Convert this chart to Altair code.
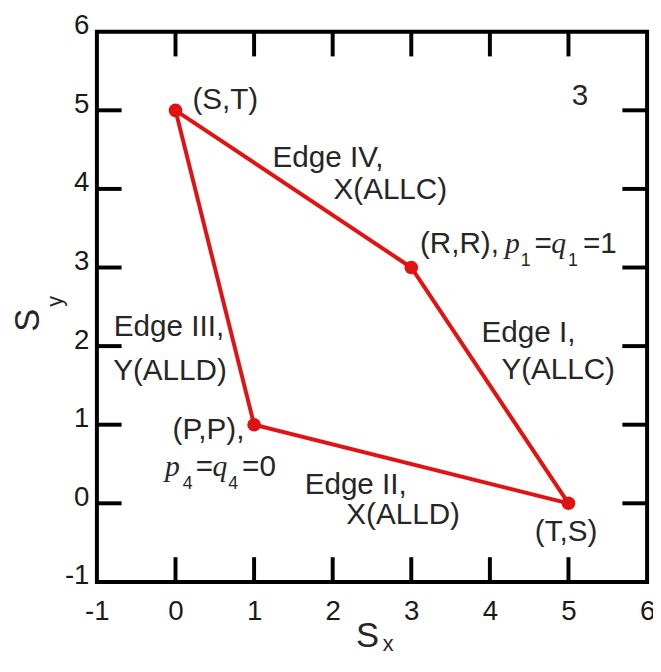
import altair as alt
import pandas as pd

# ---------------- data ----------------
axis_values = [-1, 0, 1, 2, 3, 4, 5, 6]
inner_ticks = [0, 1, 2, 3, 4, 5]

# closed path S,T -> R,R -> T,S -> P,P -> S,T
path_x = [0, 3, 5, 1, 0]
path_y = [5, 3, 0, 1, 5]
path_order = [0, 1, 2, 3, 4]

point_x = [0, 3, 5, 1]
point_y = [5, 3, 0, 1]

label_text = ["(S,T)", "3", "Edge IV,", "X(ALLC)", "Edge I,", "Y(ALLC)",
              "Edge III,", "Y(ALLD)", "(P,P),", "Edge II,", "X(ALLD)", "(T,S)"]
label_x = [0.634, 5.146, 1.941, 2.733, 4.492, 4.869,
           -0.083, -0.07, 0.420, 2.293, 2.896, 4.970]
label_y = [5.133, 5.18, 4.391, 3.989, 2.167, 1.689,
           2.242, 1.677, 0.935, 0.232, -0.146, -0.372]

# mathematical annotations: anchor (data) + pieces
rr_anchor = (3.110, 3.185)
rr_text = ["(R,R),", "p", "1", "=", "q", "1", "=1"]
pp_anchor = (-0.133, 0.345)
pp_text = ["p", "4", "=", "q", "4", "=0"]

# piece styles (offsets in px from the anchor, kind)
rr_dx = [0, 86, 102, 116, 133, 150, 165]
rr_kind = ["sans", "ital", "sub", "sans", "ital", "sub", "sans"]
pp_dx = [0, 18, 31, 48, 64, 78]
pp_kind = ["ital", "sub", "sans", "ital", "sub", "sans"]

RED = "#E01212"
TXT = "#262626"
W = H = 557
TICK = 25

xs = alt.Scale(domain=[-1, 6], nice=False, zero=False)
ys = alt.Scale(domain=[-1, 6], nice=False, zero=False)

label_expr = "datum.value < 0 ? '-' + abs(datum.value) : '' + datum.value"
common_axis = dict(values=axis_values, ticks=False, domain=False, grid=False,
                   labelFont="Liberation Sans", labelFontSize=28, labelColor="#1a1a1a",
                   labelFlush=False, labelOverlap=False, title=None, labelExpr=label_expr)
xaxis = alt.Axis(labelPadding=16, **common_axis)
yaxis = alt.Axis(labelPadding=8, labelOffset=-6, **common_axis)


def X(field="x"):
    return alt.X(f"{field}:Q", scale=xs, axis=xaxis)


def Y(field="y"):
    return alt.Y(f"{field}:Q", scale=ys, axis=yaxis)


df_path = pd.DataFrame({"x": path_x, "y": path_y, "o": path_order})
df_pts = pd.DataFrame({"x": point_x, "y": point_y})
df_ticks = pd.DataFrame({"x": inner_ticks, "y": inner_ticks})
df_lab = pd.DataFrame({"x": label_x, "y": label_y, "t": label_text})

layers = []

# inward ticks on all four sides
tick_style = dict(color="black", strokeWidth=4)
layers.append(alt.Chart(df_ticks).mark_rule(**tick_style).encode(
    x=X(), y=alt.value(H), y2=alt.value(H - TICK)))
layers.append(alt.Chart(df_ticks).mark_rule(**tick_style).encode(
    x=X(), y=alt.value(0), y2=alt.value(TICK)))
layers.append(alt.Chart(df_ticks).mark_rule(**tick_style).encode(
    y=Y(), x=alt.value(0), x2=alt.value(TICK)))
layers.append(alt.Chart(df_ticks).mark_rule(**tick_style).encode(
    y=Y(), x=alt.value(W), x2=alt.value(W - TICK)))

# polygon
layers.append(alt.Chart(df_path).mark_line(color=RED, strokeWidth=4).encode(
    x=X(), y=Y(), order="o:Q"))
layers.append(alt.Chart(df_pts).mark_circle(color=RED, size=190, opacity=1).encode(
    x=X(), y=Y()))

# plain labels
layers.append(alt.Chart(df_lab).mark_text(
    font="Liberation Sans", fontSize=30, color=TXT, align="center", baseline="middle"
).encode(x=X(), y=Y(), text="t:N"))

kind_style = {
    "sans": dict(font="Liberation Sans", fontSize=30, dy=0),
    "ital": dict(font="Liberation Serif", fontSize=30, fontStyle="italic", dy=0),
    "sub": dict(font="Liberation Sans", fontSize=18, dy=13),
}


def math_layers(anchor, texts, dxs, kinds):
    out = []
    df = pd.DataFrame({"x": [anchor[0]], "y": [anchor[1]]})
    for t, dx, k in zip(texts, dxs, kinds):
        st = dict(kind_style[k])
        out.append(alt.Chart(df).mark_text(
            text=t, dx=dx, align="left", baseline="alphabetic", color=TXT, **st
        ).encode(x=X(), y=Y()))
    return out


layers += math_layers(rr_anchor, rr_text, rr_dx, rr_kind)
layers += math_layers(pp_anchor, pp_text, pp_dx, pp_kind)

# axis titles with subscripts
one = pd.DataFrame({"a": [0]})
layers.append(alt.Chart(one).mark_text(
    text="S", font="Liberation Sans", fontSize=35, color=TXT, align="center", baseline="middle"
).encode(x=alt.value(274), y=alt.value(612)))
layers.append(alt.Chart(one).mark_text(
    text="x", font="Liberation Sans", fontSize=22, color=TXT, align="center", baseline="middle"
).encode(x=alt.value(295), y=alt.value(620)))
layers.append(alt.Chart(one).mark_text(
    text="S", font="Liberation Sans", fontSize=35, color=TXT, align="center", baseline="middle",
    angle=270
).encode(x=alt.value(-70), y=alt.value(292)))
layers.append(alt.Chart(one).mark_text(
    text="y", font="Liberation Sans", fontSize=22, color=TXT, align="center", baseline="middle",
    angle=270
).encode(x=alt.value(-42), y=alt.value(273)))

chart = alt.layer(*layers).properties(
    width=W, height=H,
    autosize=alt.AutoSizeParams(type="none"),
    padding={"left": 90, "top": 20, "right": 6, "bottom": 71},
).configure_view(stroke="black", strokeWidth=4)

chart.save("out.html", embed_options={"renderer": "svg", "actions": False})
